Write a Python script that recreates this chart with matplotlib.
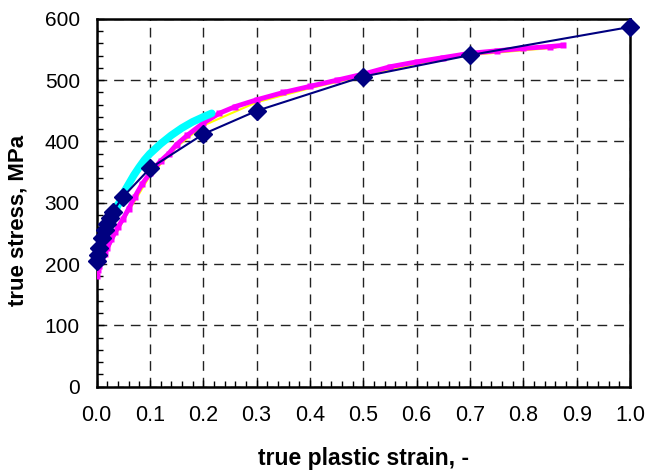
import numpy as np
import matplotlib
matplotlib.use('Agg')
import matplotlib.pyplot as plt
from matplotlib.ticker import MultipleLocator

plt.rcParams['font.family'] = ['Liberation Sans', 'DejaVu Sans']

# model curve (diamonds)
model_strain = [0, 0.002, 0.005, 0.01, 0.015, 0.02, 0.025, 0.03, 0.05, 0.1, 0.2, 0.3, 0.5, 0.7, 1.0]
model_stress = [205, 215, 226, 243, 255, 265, 275, 285, 310, 356, 412, 450, 506, 541, 587]

# test 1 (magenta)
test1_strain = [0.000, 0.002, 0.005, 0.010, 0.015, 0.020, 0.028, 0.035, 0.040, 0.050, 0.060,
                0.072, 0.085, 0.100, 0.120, 0.135, 0.150, 0.170, 0.200, 0.230, 0.260, 0.300,
                0.350, 0.400, 0.450, 0.500, 0.550, 0.600, 0.650, 0.700, 0.750, 0.800, 0.850, 0.875]
test1_stress = [180, 190, 197, 207, 217, 226, 240, 252, 260, 274, 290,
                310, 330, 348, 368, 380, 395, 410, 430, 446, 457, 468,
                480, 490, 500, 510, 522, 530, 537, 544, 548, 552, 555, 557]

# test 2 (yellow, mostly hidden under test 1)
test2_strain = [0.000, 0.010, 0.030, 0.060, 0.100, 0.150, 0.200, 0.300, 0.400, 0.500, 0.600, 0.700, 0.800, 0.860]
test2_stress = [178, 203, 240, 286, 344, 391, 426, 464, 487, 507, 527, 541, 549, 553]

# test 3 (cyan)
test3_strain = [0.038, 0.045, 0.050, 0.060, 0.070, 0.080, 0.090, 0.100, 0.120, 0.140, 0.160, 0.180, 0.200, 0.216]
test3_stress = [292, 305, 315, 330, 345, 358, 370, 380, 396, 410, 422, 432, 440, 446]

fig = plt.figure(figsize=(6.47, 4.73), dpi=100)
ax = fig.add_axes([96.5/647, 1-386.5/473, (630-96.5)/647, (386.5-19)/473])

ax.plot(test2_strain, test2_stress, color='#FFFF00', lw=1.5, zorder=3)
ax.plot(test1_strain, test1_stress, color='#FF00FF', lw=3.5, marker='s', ms=4.5, mec='none', zorder=4)
ax.plot(test3_strain, test3_stress, color='#00FFFF', lw=5.5, solid_capstyle='round', zorder=5)
ax.plot(model_strain, model_stress, color='#000080', lw=1.5, marker='D', ms=9, mec='#000080', zorder=6, clip_on=False)

ax.set_xlim(0, 1.0)
ax.set_ylim(0, 600)
ax.set_xticks(np.arange(0, 1.01, 0.1))
ax.set_xticklabels(['%.1f' % v for v in np.arange(0, 1.01, 0.1)])
ax.xaxis.set_minor_locator(MultipleLocator(0.02))
ax.yaxis.set_major_locator(MultipleLocator(100))
ax.yaxis.set_minor_locator(MultipleLocator(20))

ax.grid(True, which='major', color='#222222', ls=(0, (7, 5)), lw=1)
ax.tick_params(which='both', direction='in', top=False, right=False, labelsize=15)
ax.tick_params(axis='x', labelsize=15.5)
ax.tick_params(which='major', length=5, width=1)
ax.tick_params(which='minor', length=4, width=1)
ax.tick_params(axis='x', pad=13)
ax.tick_params(axis='y', pad=12)
for s in ax.spines.values():
    s.set_linewidth(1.8)

ax.set_xlabel('true plastic strain, -', fontsize=16.5, fontweight='bold')
ax.xaxis.label.set_va('center')
ax.xaxis.set_label_coords(0.5, -0.195)
ax.set_ylabel('true stress, MPa', fontsize=16, fontweight='bold')
ax.yaxis.label.set_va('center')
ax.yaxis.set_label_coords(-0.147, 0.453)

fig.savefig('out.png', dpi=100)
